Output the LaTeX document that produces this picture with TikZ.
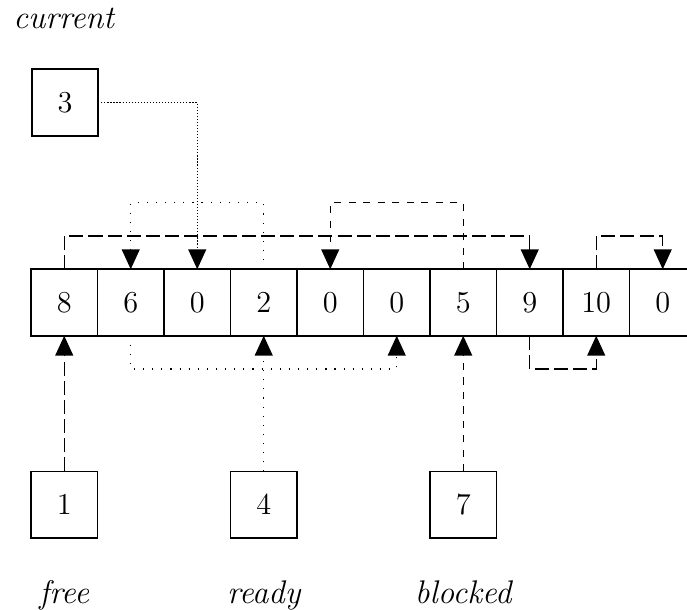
\documentclass[tikz,border=0pt]{standalone}
\usepackage{amsmath, amssymb}
\usetikzlibrary{arrows.meta}

\begin{document}
\begin{tikzpicture}[
    cell/.style={draw, line width=0.8pt, minimum size=1cm, inner sep=0pt, outer sep=0pt,
      font=\fontsize{13}{15}\selectfont},
    lbl/.style={font=\fontsize{14}{17}\selectfont\itshape, inner sep=0pt},
    link/.style={line width=0.6pt, -{Triangle[length=0.3cm,width=0.27cm]}},
    freelist/.style={link, dash pattern=on 6pt off 2.2pt},
    readylist/.style={link, dash pattern=on 0.5pt off 3.4pt},
    blockedlist/.style={link, dash pattern=on 3.1pt off 3.1pt},
    currentlist/.style={link, dash pattern=on 0.5pt off 0.8pt}]
    \useasboundingbox (0,0) rectangle (10.331,-9.173);
    % the array
    \foreach \v [count=\i] in {8,6,0,2,0,0,5,9,10,0}
      \node[cell] (c\i) at (\i-0.034,-4.549) {\v};
    % the heads
    \node[cell] (b3) at (0.977,-1.541) {3};
    \node[cell] (b1) at (0.966,-7.59) {1};
    \node[cell] (b4) at (3.966,-7.59) {4};
    \node[cell] (b7) at (6.966,-7.59) {7};
    \node[lbl, anchor=base west] (tcur) at (0.195,-0.436) {current};
    \node[lbl, anchor=base] (tfree) at (0.966,-9.068) {free};
    \node[lbl, anchor=base] (tready) at (3.966,-9.068) {ready};
    \node[lbl, anchor=base] (tblocked) at (6.966,-9.068) {blocked};
    % free list
    \draw[freelist] (b1.north) -- (c1.south);
    \draw[freelist] (c1.north) -- ++(0,0.5) -| (c8.north);
    \draw[freelist] (c8.south) -- ++(0,-0.5) -| (c9.south);
    \draw[freelist] (c9.north) -- ++(0,0.5) -| (c10.north);
    % ready list
    \draw[readylist] (b4.north) -- (c4.south);
    \draw[readylist] (c4.north) -- ++(0,1) -| (c2.north);
    \draw[readylist] (c2.south) -- ++(0,-0.5) -| (c6.south);
    % blocked list
    \draw[blockedlist] (b7.north) -- (c7.south);
    \draw[blockedlist] (c7.north) -- ++(0,1) -| (c5.north);
    % current
    \draw[currentlist] (b3.east) -| (c3.north);
  \end{tikzpicture}
\end{document}
